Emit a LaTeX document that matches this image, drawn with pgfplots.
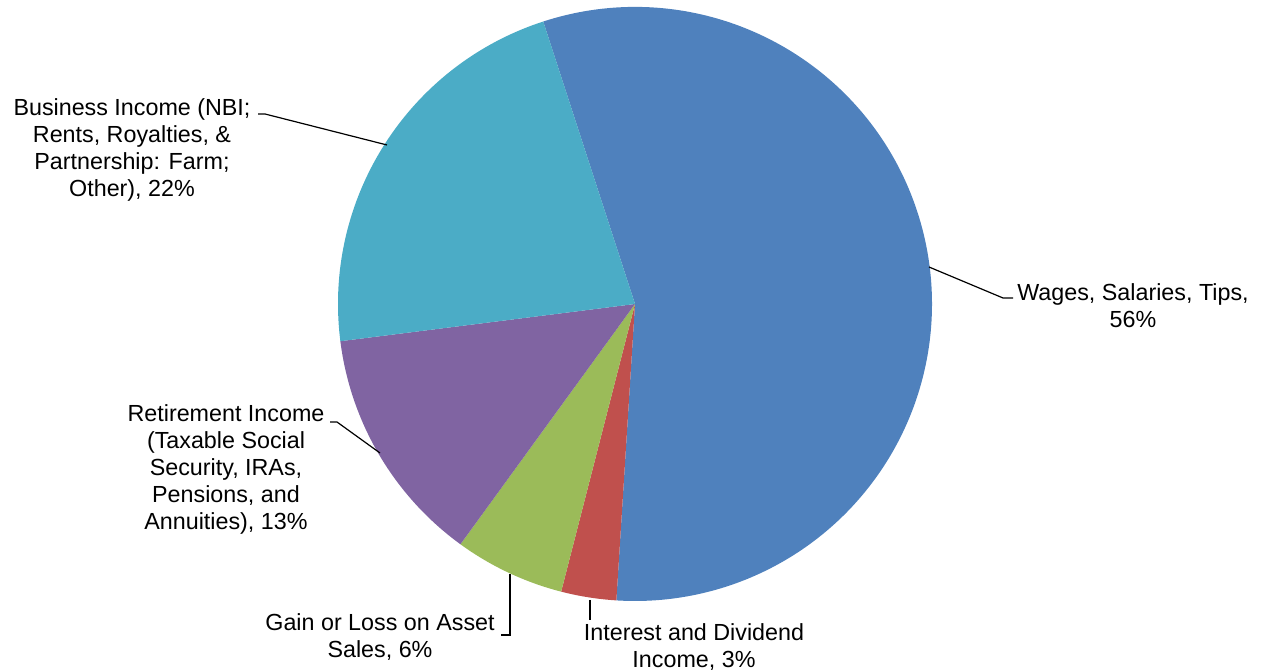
\documentclass[border=0pt]{standalone}
\usepackage{pgfplots}
\pgfplotsset{compat=1.18}
\usepackage{pgfplotstable}
\usepackage{fontspec}
\setmainfont{Liberation Sans}

\definecolor{wages}{HTML}{4F81BD}
\definecolor{interest}{HTML}{C0504D}
\definecolor{gain}{HTML}{9BBB59}
\definecolor{retire}{HTML}{8064A2}
\definecolor{business}{HTML}{4BACC6}

% share of income (%), clockwise from the top-left edge
\pgfplotstableread{
value col
56 wages
3 interest
6 gain
13 retire
22 business
}\piedata

\begin{document}
\begin{tikzpicture}
\begin{axis}[
    width=1261bp, height=671bp, scale only axis,
    xmin=0, xmax=1261, ymin=0, ymax=671,
    hide axis, clip=false,
]
% wedges
\pgfplotsextra{
  \pgfplotstablegetrowsof{\piedata}
  \pgfmathtruncatemacro\N{\pgfplotsretval-1}
  \xdef\startang{108}
  \foreach \i in {0,...,\N}{
    \pgfplotstablegetelem{\i}{value}\of\piedata \let\v\pgfplotsretval
    \pgfplotstablegetelem{\i}{col}\of\piedata \let\c\pgfplotsretval
    \pgfmathsetmacro\endang{\startang-3.6*\v}
    \fill[\c] (axis cs:635,367) -- ++(\startang:297bp)
        arc[start angle=\startang, end angle=\endang, radius=297bp] -- cycle;
    \xdef\startang{\endang}
  }
}
% leader lines
\addplot[black, line width=1.2bp, mark=none] coordinates {(258,557) (265,557) (387,526)};
\addplot[black, line width=1.2bp, mark=none] coordinates {(929,404) (1003,373) (1013,373)};
\addplot[black, line width=1.2bp, mark=none] coordinates {(330,249) (337,249) (380,218)};
\addplot[black, line width=1.2bp, mark=none] coordinates {(501,36) (510,36) (510,97)};
\addplot[black, line width=1.2bp, mark=none] coordinates {(590,71) (590,51)};
% labels
\begin{scope}[every node/.style={align=center, inner sep=0pt, font=\fontsize{23.3bp}{27bp}\selectfont}]
\node at (axis cs:132,521) {Business Income (NBI;\\Rents, Royalties, \&\\Partnership: Farm;\\Other), 22\%};
\node at (axis cs:1133,365) {Wages, Salaries, Tips,\\56\%};
\node at (axis cs:226,202) {Retirement Income\\(Taxable Social\\Security, IRAs,\\Pensions, and\\Annuities), 13\%};
\node at (axis cs:380,34) {Gain or Loss on Asset\\Sales, 6\%};
\node at (axis cs:694,24) {Interest and Dividend\\Income, 3\%};
\end{scope}
\coordinate (ll) at (axis cs:0,0);
\coordinate (ur) at (axis cs:1261,671);
\end{axis}
\pgfresetboundingbox
\path[use as bounding box] (ll) rectangle (ur);
\end{tikzpicture}
\end{document}
